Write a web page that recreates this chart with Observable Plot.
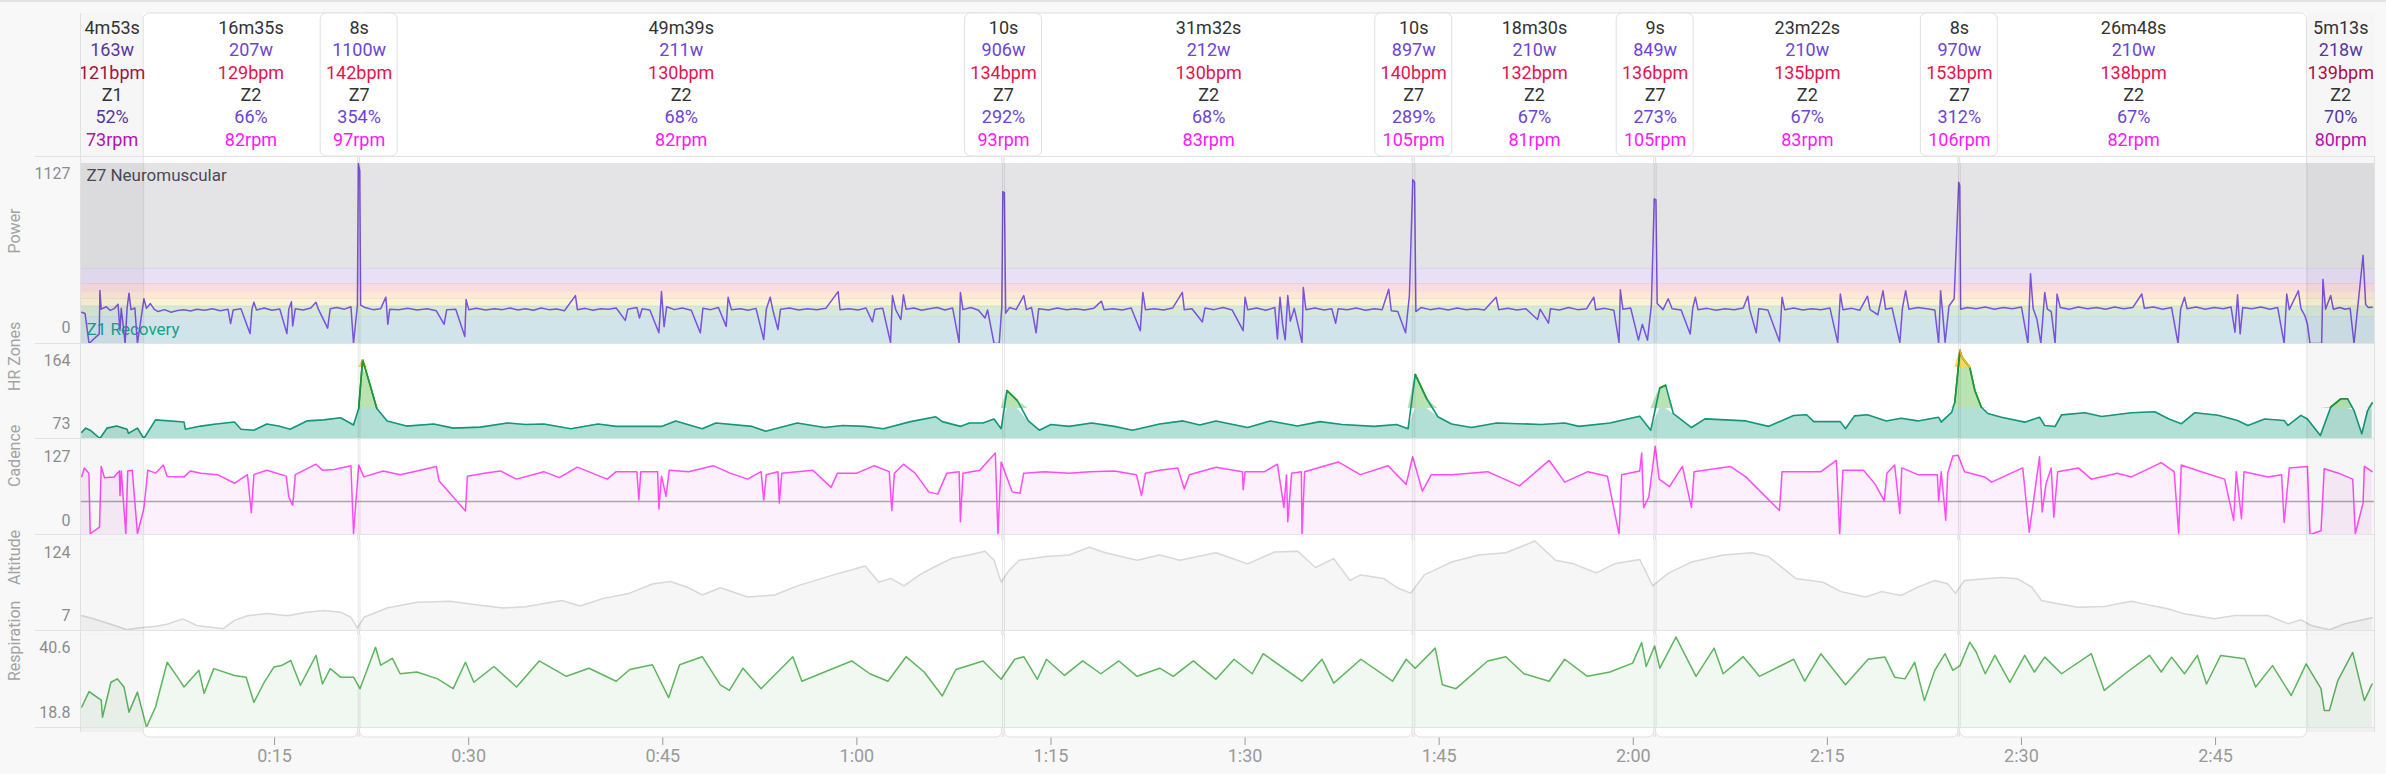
<!DOCTYPE html>
<html><head><meta charset="utf-8">
<script src="https://cdn.jsdelivr.net/npm/d3@7"></script>
<script src="https://cdn.jsdelivr.net/npm/@observablehq/plot@0.6"></script>
<style>
html,body{margin:0;padding:0;background:#f8f8f8;}
#chart{position:relative;width:2386px;height:774px;overflow:hidden;background:#f8f8f8;font-family:Roboto,sans-serif;}
#chart svg{position:absolute;left:0;}
.hline{position:absolute;height:1px;background:#e3e3e3;}
.vline{position:absolute;width:1px;background:#e0e0e0;}
</style></head><body><div id="chart"></div><script>
// ---------- interval header data ----------
const intervalLabels = ["4m53s","16m35s","8s","49m39s","10s","31m32s","10s","18m30s","9s","23m22s","8s","26m48s","5m13s"];
const intervalSeconds = [293,995,8,2979,10,1892,10,1110,9,1402,8,1608,313];
const intervalWatts = [163,207,1100,211,906,212,897,210,849,210,970,210,218];
const intervalBpm = [121,129,142,130,134,130,140,132,136,135,153,138,139];
const intervalZone = ["Z1","Z2","Z7","Z2","Z7","Z2","Z7","Z2","Z7","Z2","Z7","Z2","Z2"];
const intervalPct = [52,66,354,68,292,68,289,67,273,67,312,67,70];
const intervalRpm = [73,82,97,82,93,83,105,81,105,83,106,82,80];
const intervalKind = ["rest","work","sprint","work","sprint","work","sprint","work","sprint","work","sprint","work","rest"];

// ---------- axis labels ----------
const xTickValues = [15,30,45,60,75,90,105,120,135,150,165];
const xTickLabels = ["0:15","0:30","0:45","1:00","1:15","1:30","1:45","2:00","2:15","2:30","2:45"];
const powerTicks = ["1127","0"];
const hrTicks = ["164","73"];
const cadenceTicks = ["127","0"];
const altitudeTicks = ["124","7"];
const respTicks = ["40.6","18.8"];
const panelTitles = ["Power","HR Zones","Cadence","Altitude","Respiration"];

// ---------- power zones (W) ----------
const powerZoneBounds = [0,172,235,282,329,376,470,1127];
const powerZoneColors = ["#d1e4e9","#d6ebd7","#fbf3d6","#fde8d8","#fadbe1","#e8e0f5","#e4e4e7"];
const powerZoneNames = ["Z1 Recovery","Z7 Neuromuscular"];

// ---------- HR zones (bpm) and their share of the panel height ----------
const hrBreaks = [116,145,158,165];
const hrBandHeights = [0,30,71,92];
const cadenceRef = 44;

// ---------- series: [minutes, value] ----------
const powerSeries = [[0.1,196],[0.35,188],[0.66,0],[1.45,60],[1.5,332],[1.6,215],[2.0,230],[2.3,207],[2.6,218],[2.9,245],[3.05,81],[3.15,220],[3.45,0],[3.6,220],[3.75,315],[3.9,212],[4.2,222],[4.4,0],[4.9,280],[5.1,220],[5.4,250],[5.7,214],[6.0,200],[6.5,212],[7.0,196],[7.5,206],[8.0,212],[8.5,204],[9.0,215],[9.6,208],[10.2,218],[10.8,205],[11.4,214],[11.6,125],[11.8,210],[12.4,218],[13.1,62],[13.25,215],[13.4,259],[13.6,210],[14.2,222],[14.8,208],[15.4,216],[15.95,62],[16.1,215],[16.3,262],[16.4,110],[16.6,218],[17.2,210],[17.8,222],[18.2,258],[18.4,212],[19.1,96],[19.3,218],[19.8,225],[20.4,215],[20.9,230],[21.1,0],[21.4,240],[21.47,1127],[21.58,1080],[21.65,240],[22.0,225],[22.6,212],[23.2,218],[23.6,290],[23.75,120],[23.9,215],[24.6,212],[25.3,220],[26.0,210],[26.8,218],[27.5,205],[28.1,120],[28.3,212],[29.0,215],[29.7,44],[29.8,275],[30.0,212],[30.6,220],[31.3,210],[32.0,218],[32.6,212],
[33.2,222],[33.8,210],[34.4,218],[35.0,208],[35.6,222],[36.2,212],[36.8,216],[37.4,205],[38.25,300],[38.4,212],[39.0,220],[39.6,208],[40.2,218],[40.8,214],[41.4,222],[42.1,145],[42.3,215],[43.0,225],[43.2,160],[43.4,218],[44.0,210],[44.7,67],[44.9,325],[45.1,105],[45.3,230],[45.9,212],[46.5,222],[47.2,208],[47.9,67],[48.1,220],[48.7,212],[49.3,225],[49.9,107],[50.05,290],[50.3,212],[51.0,218],[51.6,208],[52.2,220],[52.8,25],[53.0,215],[53.3,290],[53.5,210],[53.9,88],[54.1,215],[54.8,222],[55.5,210],[56.2,218],[56.9,212],[57.6,220],[58.55,325],[58.7,212],[59.4,218],[60.1,210],[60.7,222],[61.2,135],[61.4,215],[62.0,220],[62.6,5],[62.75,300],[63.0,212],[63.4,150],[63.6,305],[63.8,215],[64.4,222],[65.0,208],[65.6,218],[66.2,225],[66.8,210],[67.4,222],[67.9,5],[68.0,320],[68.2,212],[68.8,225],[69.4,208],[69.9,160],[70.1,210],[70.6,0],[71.0,0],[71.2,230],[71.28,950],[71.4,945],[71.5,190],[71.8,225],[72.3,212],[72.9,300],[73.1,212],[73.5,225],[73.85,67],[74.05,218],[74.8,210],[75.5,222],[76.2,212],[76.9,218],[77.6,210],[78.3,220],[78.9,265],[79.1,212],[79.8,218],[80.5,210],[81.2,222],[81.9,80],[82.1,320],[82.3,212],[83.0,218],[83.7,210],[84.4,222],[85.15,320],[85.3,212],
[85.9,218],[86.7,135],[86.9,222],[87.6,212],[88.3,225],[89.0,210],[89.85,80],[90.0,290],[90.2,212],[90.9,222],[91.6,208],[92.3,225],[92.5,28],[92.7,290],[92.9,120],[93.1,23],[93.3,300],[93.5,140],[93.8,220],[94.4,5],[94.5,350],[94.7,212],[95.4,222],[96.1,210],[96.7,218],[97.0,127],[97.2,218],[97.9,212],[98.6,222],[99.3,208],[100.0,218],[100.6,212],[101.1,340],[101.3,205],[101.8,200],[102.4,67],[102.7,300],[102.96,1025],[103.1,1010],[103.2,200],[103.6,225],[104.3,212],[105.0,220],[105.7,210],[106.4,222],[107.1,212],[107.8,218],[108.5,210],[109.4,290],[109.6,212],[110.3,220],[111.0,210],[111.7,218],[112.6,150],[112.8,215],[113.45,127],[113.6,218],[114.3,210],[115.0,225],[115.7,212],[116.4,218],[116.95,290],[117.1,212],[117.8,220],[118.5,208],[118.9,5],[119.0,336],[119.2,215],[119.8,222],[120.4,21],[120.7,120],[121.1,21],[121.4,240],[121.62,905],[121.75,900],[121.85,250],[122.3,212],[122.7,280],[123.0,218],[123.7,210],[124.4,60],[124.6,222],[124.8,290],[125.0,212],[125.7,220],[126.4,208],[127.1,218],[127.8,212],[128.5,222],[128.85,296],[129.0,212],[129.5,67],[129.7,218],[130.4,210],[131.3,13],[131.5,290],[131.7,212],[132.4,222],[133.1,210],[133.8,218],[134.5,212],[135.2,222],[135.8,5],[136.0,310],[136.2,212],[136.9,220],[137.5,208],[138.1,296],[138.3,212],[138.9,180],[139.3,330],[139.5,215],
[140.0,222],[140.6,6],[140.8,220],[141.05,331],[141.3,215],[142.0,225],[142.7,218],[143.3,210],[143.6,0],[143.75,331],[143.9,200],[144.1,6],[144.4,235],[144.8,280],[145.15,1010],[145.23,990],[145.3,215],[145.8,225],[146.5,218],[147.2,228],[147.9,215],[148.6,225],[149.3,218],[150.0,228],[150.5,0],[150.7,437],[150.9,220],[151.2,150],[151.5,0],[151.8,320],[152.0,215],[152.3,200],[152.6,0],[152.75,310],[153.0,225],[153.7,215],[154.4,228],[155.1,218],[155.8,226],[156.5,215],[157.2,228],[157.9,218],[158.6,225],[159.3,310],[159.5,220],[160.2,228],[160.9,215],[161.6,225],[162.1,0],[162.3,215],[162.6,290],[162.8,218],[163.5,228],[164.2,215],[164.9,225],[165.6,218],[166.2,228],[166.5,71],[166.7,305],[166.9,60],[167.1,225],[167.8,218],[168.5,228],[169.2,215],[169.8,225],[170.3,0],[170.5,310],[170.7,212],[171.4,330],[171.6,218],[171.9,175],[172.1,120],[172.3,0],[173.2,0],[173.3,400],[173.5,215],[173.9,300],[174.1,215],[174.6,225],[175.0,215],[175.4,220],[175.7,0],[176.4,552],[176.6,245],[176.8,225],[177.1,227]];

const hrSeries = [[0.1,122],[0.4,126],[0.75,124],[1.5,116],[2.05,126],[2.8,128],[3.6,125],[3.7,121],[4.4,126],[4.9,116],[5.8,134],[8.0,132],[8.1,125],[9.3,128],[10.5,130],[11.9,132],[12.4,125],[13.4,124],[14.4,130],[15.3,128],[16.2,125],[17.5,133],[18.8,134],[20.1,136],[21.1,129],[21.5,145],[21.8,160.6],[22.2,155],[22.9,145],[23.7,133],[25.2,128],[27.3,130],[28.8,126],[30.9,127],[33,131],[34.4,129.6],[35.8,130],[37.9,125.5],[40,130],[41.4,127.7],[44.9,127.7],[46,133],[48.05,125.5],[49.1,131],[51.9,127.7],[52.95,123],[55.4,131],[57.5,126.6],[58.9,128.6],[60.6,127.7],[62.05,125.5],[64.15,132.3],[66.1,137],[66.6,132.3],[68,127.7],[68.7,131],[69.75,131],[70.6,134.9],[71.15,125.5],[71.6,150.7],[72.4,147.5],[73.25,133],[74.1,124],[75,129.6],[76.4,127.7],[78.15,131],[79.9,127.7],[81.3,124],[83.4,130],[85.2,133],
[86.5,129],[87.75,133],[90.2,126.6],[91.95,133],[94.05,128],[95.8,132.3],[97.5,129.6],[100,127.7],[101.7,129.6],[102.6,125.5],[103.15,155.8],[104.05,148],[104.9,137],[105.95,130],[107.5,126.6],[109.45,131],[112.9,129.6],[114.7,131],[115.8,127.7],[118.2,131],[120.5,137.6],[121.35,124],[122.05,151.5],[122.5,152.4],[123.1,140],[124.5,126.6],[125.55,135],[128.7,133],[130.45,127.7],[132.4,138.3],[133.4,139],[133.95,132.3],[136.0,132.3],[136.4,125.5],[137.1,137.9],[138.1,139],[139.55,133],
[140.7,135.6],[142,133],[143.6,136.5],[143.8,131.8],[144.6,141.2],[144.85,147],[145.25,163.7],[145.4,161.4],[146,158.1],[146.4,150.7],[146.9,145.4],[147.4,140.2],[148.45,136.5],[150.25,131.8],[151.4,136.5],[151.8,128.6],[152.6,127.6],[153.1,138.8],[154.9,140.9],[156.2,137.3],[158.5,140.9],[160.3,141.8],[161.4,134.8],[162.35,130.2],[163.4,140.9],[165.2,138.4],[166.7,133.4],[167.5,128.6],[168.8,134.8],[170.3,133.4],[170.6,128.6],[171.6,138.4],[172.1,134.8],[173.1,118.9],[173.9,145.4],[174.7,148.1],[175.2,148.1],[175.7,143],[176.3,120.5],[176.75,143],[177.1,146.7]];

const cadenceSeries = [[0.1,77.5],[0.3,89],[0.65,82],[0.75,1],[1.47,10],[1.6,91],[1.85,76],[2.6,77],[3.0,85],[3.05,52],[3.15,85],[3.5,1],[3.65,85],[4.0,86],[4.4,1],[4.9,35],[5.2,86],[5.8,82],[6.4,93],[6.7,77.5],[8.0,77],[8.5,85],[9.3,82],[10.6,80],[11.9,68.5],[12.9,80],[13.2,29],[13.4,80],[14.4,86],[15.9,78],[16.1,50],[16.4,39],[16.6,80],[18.2,94],[18.7,86],[19.6,87],[20.9,92],[21.1,1],[21.5,93],[21.9,77],[23.4,85],[24.7,80],[26.0,85],[27.5,91],[27.7,72],[29.75,31.5],[29.9,78],[31.2,82],[32.45,85],
[33.7,74],[35.8,84],[37.0,76],[38.4,90],[40.7,74],[41.4,84],[43.0,84],[43.15,46],[43.3,84],[44.6,84],[44.7,34],[44.9,78],[45.25,51],[45.5,86],[47.0,84],[48.9,92],[50.2,82],[51.55,74],[52.6,84],[52.8,46],[53.0,80],[53.9,84],[54.0,42],[54.2,82],[56.6,86],[58.0,63],[58.5,82],[60.0,82],[61.35,92],[62.5,84],[62.7,32],[62.9,82],[63.6,94],[64.5,82],[65.55,57],[66.25,54],[66.95,82],[67.9,84],[68.0,17],[68.2,82],[69.5,86],[70.7,109],[70.9,0],[71.15,97],[72.0,57],[72.6,55],[72.9,82],[74.5,84],[76.4,82],[78,84],[79.9,85],[81.6,80],[82.0,52],[82.3,82],[83.4,86],[84.8,89],[85.3,61],
[85.7,80],[87.75,90],[89.8,84],[89.85,60],[90.0,84],[91.5,84],[92.5,94],[93.0,36],[93.2,80],[93.3,17],[93.6,82],[94.35,84],[94.4,0],[94.6,84],[97.2,97],[98.9,80],[101.05,92],[102.45,67],[102.95,104],[103.7,58],[104.4,80],[106,80],[108.75,84],[111.2,65],[113.5,99],[114.7,70],[116.5,84],[118.0,78],[118.9,0],[119.1,80],[120.5,85],[120.65,109],[120.8,36],[121.2,50],[121.7,118],[122.0,74],[122.8,64],[123.8,91],[124.5,36],[124.7,84],[127.5,91],[128.7,77],[131.3,32],[131.5,84],[134.5,84],[135.7,99],[135.95,0],[136.2,86],[137.8,86],[138.7,67],[139.4,45],
[139.6,82],[140.2,93],[140.6,28],[140.75,89],[142.0,80],[143.5,80],[143.6,44],[143.8,84],[144.15,19],[144.3,82],[144.7,105],[145.1,106],[145.6,84],[147.15,77],[147.7,70],[149.2,82],[150.1,89],[150.6,3],[151.4,104],[151.6,30],[151.9,68],[152.3,89],[152.5,23],[152.8,84],[154.4,89],[155.4,74],[157.4,82],[158.5,77],[160.8,96],[161.8,84],[162.15,1],[162.35,93],[163.9,84],[165.7,74],[166.4,19],[166.6,84],[167.0,21],[167.2,84],[169.05,77],[170.1,80],[170.3,16],[170.7,89],[172.1,91],[172.3,0],[173.15,5],[173.4,88],[174.5,82],[175.6,74],[175.8,1],[176.4,42],[176.5,91],[177.1,84]];

const altitudeSeries = [[0.1,26],[0.8,23],[2.35,15],[3.6,8],[4.4,10.3],[5.7,12],[6.7,15],[7.9,22],[9.0,13.4],[11.0,9.2],[11.9,20],[12.9,26],[14.4,29],[16.0,26],[17.5,30.6],[18.8,32.7],[20.1,30.6],[20.9,24],[21.4,10],[21.9,24],[23.7,36],[26.0,43.4],[28.6,44.7],[30.4,40.4],
[32.65,36],[34.4,37.5],[37.2,45.6],[38.6,38.5],[40.35,48],[42.45,55],[44.2,66.7],[45.6,70],[47,62],[48.05,52.6],[49.45,62],[51.55,50],[53.65,52.6],[55.4,64.4],[58.2,78.5],[60.65,90],[61.7,69],[62.6,74],[63.65,64.4],[64.85,78.5],[65.9,88],[67.3,99.5],[68.7,104],[69.9,109],[70.6,97.4],[71.15,69],[71.7,83],[72.55,97.4],[74.65,102],[76.4,104],[77.95,114],[79.2,107],[81.65,97.4],[83.4,104],
[84.95,97.4],[87.75,107],[90.2,92.7],[92.3,108],[94.05,109],[95.45,88],[96.85,99.5],[98.1,71.5],[98.95,78.5],[100.7,74],[101.75,62],[102.8,55],[103.85,78.5],[105.95,95],[108.05,104],[110.15,107],[112.4,122],[114,97.4],[115.4,92.7],[117.15,81],[118.55,92.7],[120.5,98.4],[121.5,64.4],[122.75,81],[124.5,95],[126.95,104],[129.2,107],[130.45,102],[132.55,74],[134.65,69],[136.05,57],[137.95,50],[139.2,57],
[140.7,52],[142,62.7],[143.3,71.3],[144.3,67],[144.9,55],[145.6,71.3],[147.2,73.4],[148.45,75],[149.7,73.4],[150.8,62.7],[151.55,45.6],[152.8,41.3],[154.4,37],[156.4,38],[158.5,44.7],[160.05,39],[161.3,35],[162.6,28.4],[164.9,22],[166.5,26.3],[169.05,26.3],[170.6,15.6],[171.6,20.7],[172.4,13.4],[173.8,7.9],[175,15.6],[177.1,23.3]];

const respSeries = [[0.1,23.6],[0.66,27.2],[1.6,25.2],[1.7,21.2],[2.35,29.4],[2.85,30.2],[3.36,28.3],[3.75,22.4],[4.4,27.1],[5.1,18.9],[5.8,23.6],[6.7,34.1],[7.5,30.6],[8.0,28.3],[9.15,32.2],[9.55,26.8],[10.3,32.6],[11.9,31],[12.8,30.6],[13.4,24.7],[14.2,29.4],[14.95,33],[15.6,33.4],[16.25,34.5],[17.0,28.7],[18.2,35.7],[18.7,29],[19.3,32.6],[20.1,30.6],[21.1,30.6],[21.6,27.9],[22.8,37.6],[23.2,33.4],[24.1,35],[24.7,31.4],[26,31.8],[27.6,30.2],[28.8,27.9],[29.75,34.1],[30.4,29.4],
[31.95,33.1],[33.7,28.3],[35.45,34.4],[37.55,30.8],[39.3,32.7],[41.4,29.65],[42.45,32.4],[44.2,33.5],[45.45,25.8],[46.3,33.5],[48.05,35.4],[49.45,28.8],[50.15,27.5],[51.2,32.7],[52.6,27.9],[55.05,35.4],[55.75,29.65],[57.5,31.8],[59.6,34.4],[61,31.4],[62.4,29.65],[63.8,35.4],[65.2,31.8],[66.6,26.2],[67.65,32.4],[69.75,34.4],[71.15,30.1],[72.2,34.8],[72.9,35.4],[73.95,30.1],[74.65,34.8],[76.05,31],[77.45,34.4],[78.85,31.4],[80.25,34.4],[81.65,30.8],[83.4,32.7],[84.45,30.8],
[86,34.4],[87.75,30.1],[89.15,34.8],[90.55,31.4],[91.4,36.1],[94.4,29.65],[95.95,34.8],[96.85,29.2],[98.95,34.8],[101.4,29.65],[102.45,34.8],[103.15,32.7],[104.7,37.4],[105.25,28.8],[106.3,27.9],[108.75,34.4],[110.15,35.4],[111.55,31.4],[113.5,29.65],[114.7,34.8],[116.45,30.8],[118.2,31.8],[119.95,33.9],[120.65,38.7],[121,33.1],[121.65,37.9],[122.05,32.7],[123.3,40],[124.85,30.8],[126.25,37.4],[126.95,31.4],[128.5,35.4],[129.75,30.8],[132.4,34.8],[133.25,29.65],[134.5,36.1],[136.4,28.8],[138.15,34.8],[139.45,35.3],
[140.2,30.6],[141,30.2],[141.75,34.1],[142.5,25.1],[143.3,32.2],[144.1,36.1],[144.7,32.2],[145.25,33.3],[146,38.8],[146.5,36.5],[147.2,31.4],[147.95,35.7],[149.1,29.4],[150.25,35.7],[151,31.8],[151.8,35.3],[153.1,31.4],[155.4,36.1],[156.4,27.5],[158,31.4],[159.9,35.7],[160.8,31.8],[161.6,35.3],[162.6,31.4],[163.6,35.7],[164.3,29],[165.4,35.7],[167.25,34.9],[168.1,28.3],[169.4,33.3],[170.85,26.3],[172,33.7],[173.15,27.9],[173.4,22.8],[173.8,22.8],[174.45,29.8],[175.6,36.4],[176.5,25.1],[177.1,29]];

// ---------- derived structures ----------
const totalMin = d3.sum(intervalSeconds) / 60;
let acc = 0;
const intervals = intervalLabels.map((label, i) => {
  const start = acc; acc += intervalSeconds[i] / 60;
  return {label, start, end: acc, mid: (start + acc) / 2, kind: intervalKind[i],
    watts: intervalWatts[i] + "w", bpm: intervalBpm[i] + "bpm", zone: intervalZone[i],
    pct: intervalPct[i] + "%", rpm: intervalRpm[i] + "rpm"};
});
const restIntervals = intervals.filter(d => d.kind === "rest");
const boxedIntervals = intervals.filter(d => d.kind !== "rest");
const sprintIntervals = intervals.filter(d => d.kind === "sprint");
const boundaries = intervals.slice(1).map(d => d.start);
const powerZones = powerZoneColors.map((c, i) => ({lo: powerZoneBounds[i], hi: powerZoneBounds[i + 1], color: c}));
const T = d => d[0], V = d => d[1];
// zone-based (piecewise) height of HR within its panel
const hrZoneHeight = d3.scaleLinear().domain(hrBreaks).range(hrBandHeights).clamp(true);
const hrPlot = hrSeries.map(([t, v]) => ({t, h: hrZoneHeight(v)}));
const [hr0, hr1, hr2] = hrBandHeights;

// ---------- layout ----------
const W = 2386, ML = 80, MR = 12;
const FONT = "Roboto, 'Noto Sans', sans-serif";
const chart = document.getElementById("chart");
const xScale = {domain: [0, totalMin]};

// ---------- frame / header / x-axis ----------
const dark = d => d.kind === "rest";
const headerRows = [
  {key: "label", dy: 15, fill: d => "#333"},
  {key: "watts", dy: 37, fill: d => dark(d) ? "#56369e" : "#6c44d6"},
  {key: "bpm", dy: 60, fill: d => dark(d) ? "#a3123f" : "#e5134c"},
  {key: "zone", dy: 82, fill: d => "#333"},
  {key: "pct", dy: 104, fill: d => dark(d) ? "#56369e" : "#6c44d6"},
  {key: "rpm", dy: 127, fill: d => dark(d) ? "#b312ad" : "#ff17f4"}
];
const tickLabelOf = new Map(xTickValues.map((v, i) => [v, xTickLabels[i]]));
const frameSvg = Plot.plot({
  width: W, height: 774, marginLeft: ML, marginRight: MR, marginTop: 13, marginBottom: 37,
  x: {...xScale, ticks: xTickValues, tickFormat: v => tickLabelOf.get(v), tickSize: 8, tickPadding: 4, label: null},
  color: {type: "identity"},
  style: {background: "transparent", fontFamily: FONT, fontSize: "18px", color: "#9a9a9a", overflow: "visible"},
  marks: [
    Plot.rect([{start: 0, end: totalMin}], {x1: "start", x2: "end", insetBottom: 10, fill: "white"}),
    Plot.rect(restIntervals, {x1: "start", x2: "end", insetBottom: 5, fill: "#000", fillOpacity: 0.035}),
    Plot.rect(boxedIntervals, {x1: "start", x2: "end", fill: "white", stroke: "#e0e0e0", rx: 6}),
    Plot.rect(sprintIntervals, {x1: "mid", x2: "mid", insetLeft: -38.5, insetRight: -38.5, insetBottom: 581, fill: "white", stroke: "#e0e0e0", rx: 6}),
    ...headerRows.map(r => Plot.text(intervals, {x: "mid", frameAnchor: "top", dy: r.dy, text: r.key, fill: r.fill, fontSize: 18, lineAnchor: "middle"}))
  ]
});
chart.append(frameSvg);
frameSvg.style.top = "0px";

// ---------- panel helper ----------
function panel({top, height, marginTop = 0, y, marks, title, ticks, tickDy}) {
  const svg = Plot.plot({
    width: W, height, marginLeft: ML, marginRight: MR, marginTop, marginBottom: 0,
    x: {...xScale, axis: null},
    y: {...y, axis: null},
    color: {type: "identity"},
    style: {background: "transparent", fontFamily: FONT, overflow: "visible"},
    marks: [
      Plot.frame({fill: "white", stroke: null}),
      ...marks,
      Plot.rect(restIntervals, {x1: "start", x2: "end", fill: "#000", fillOpacity: 0.035}),
      Plot.ruleX(boundaries, {stroke: "#000", strokeOpacity: 0.1}),
      Plot.text([ticks[0]], {text: d => d, frameAnchor: "top-left", dx: -10, dy: tickDy[0], textAnchor: "end", lineAnchor: "middle", fill: "#8c8c8c", fontSize: 16}),
      Plot.text([ticks[1]], {text: d => d, frameAnchor: "bottom-left", dx: -10, dy: tickDy[1], textAnchor: "end", lineAnchor: "middle", fill: "#8c8c8c", fontSize: 16}),
      Plot.text([title], {text: d => d, frameAnchor: "left", dx: -66, rotate: -90, fill: "#a3a3a3", fontSize: 16})
    ]
  });
  svg.style.top = top + "px";
  chart.append(svg);
}

// Power
panel({top: 156, height: 187, marginTop: 7, y: {domain: [0, 1127]}, title: panelTitles[0], ticks: powerTicks, tickDy: [10, -16],
  marks: [
    Plot.rect(powerZones, {y1: "lo", y2: "hi", fill: "color"}),
    Plot.ruleY(powerZoneBounds.slice(1, -1), {stroke: "#000", strokeOpacity: 0.06}),
    Plot.text([powerZoneNames[1]], {text: d => d, frameAnchor: "top-left", dx: 6, dy: 12, textAnchor: "start", lineAnchor: "middle", fill: "#4d4b57", fontSize: 17}),
    Plot.text([powerZoneNames[0]], {text: d => d, frameAnchor: "bottom-left", dx: 6, dy: -14, textAnchor: "start", lineAnchor: "middle", fill: "#17a08a", fontSize: 17}),
    Plot.line(powerSeries, {x: T, y: V, stroke: "#7b52dc", strokeWidth: 1.5})
  ]});

// HR zones
panel({top: 343, height: 95, y: {domain: [0, 95]}, title: panelTitles[1], ticks: hrTicks, tickDy: [17, -15],
  marks: [
    Plot.area(hrPlot, {x1: "t", y1: hr0, y2: d => Math.min(d.h, hr1), fill: "#b3e0d6"}),
    Plot.area(hrPlot, {x1: "t", y1: hr1, y2: d => Math.max(hr1, Math.min(d.h, hr2)), fill: "#b9e3b1"}),
    Plot.area(hrPlot, {x1: "t", y1: hr2, y2: d => Math.max(hr2, d.h), fill: "#ffd862"}),
    Plot.line(hrPlot, {x: "t", y: "h", stroke: "#13977a", strokeWidth: 1.6}),
    Plot.line(hrPlot, {x: "t", y: d => d.h >= hr1 ? d.h : NaN, stroke: "#22992c", strokeWidth: 1.6}),
    Plot.line(hrPlot, {x: "t", y: d => d.h >= hr2 ? d.h : NaN, stroke: "#f7bd14", strokeWidth: 1.6})
  ]});

// Cadence
panel({top: 438, height: 96, marginTop: 1, y: {domain: [0, 127]}, title: panelTitles[2], ticks: cadenceTicks, tickDy: [17, -14],
  marks: [
    Plot.areaY(cadenceSeries, {x: T, y: V, fill: "#fdf0fd"}),
    Plot.ruleY([cadenceRef], {stroke: "#a8a8a8", strokeWidth: 1.5}),
    Plot.line(cadenceSeries, {x: T, y: V, stroke: "#ff4cf6", strokeWidth: 1.5})
  ]});

// Altitude
panel({top: 534, height: 96, marginTop: 5, y: {domain: [7, 124]}, title: panelTitles[3], ticks: altitudeTicks, tickDy: [13, -15],
  marks: [
    Plot.areaY(altitudeSeries, {x: T, y1: 7, y2: V, fill: "#f6f6f6"}),
    Plot.line(altitudeSeries, {x: T, y: V, stroke: "#d8d8d8", strokeWidth: 1.5})
  ]});

// Respiration
panel({top: 630, height: 97, marginTop: 4, y: {domain: [18.8, 40.6]}, title: panelTitles[4], ticks: respTicks, tickDy: [13, -15],
  marks: [
    Plot.areaY(respSeries, {x: T, y1: 18.8, y2: V, fill: "#f1f8f1"}),
    Plot.line(respSeries, {x: T, y: V, stroke: "#5db65d", strokeWidth: 1.5})
  ]});

// separators and borders
for (const yy of [156, 343, 438, 534, 630, 727]) {
  const d = document.createElement("div"); d.className = "hline";
  d.style.top = yy + "px"; d.style.left = "35px"; d.style.width = (W - MR - 35) + "px";
  chart.append(d);
}
for (const [xx, t0, t1] of [[ML, 13, 732], [W - MR, 156, 732]]) {
  const d = document.createElement("div"); d.className = "vline";
  d.style.left = xx + "px"; d.style.top = t0 + "px"; d.style.height = (t1 - t0) + "px";
  chart.append(d);
}
const topLine = document.createElement("div"); topLine.className = "hline";
topLine.style.top = "0px"; topLine.style.left = "0px"; topLine.style.width = W + "px"; topLine.style.height = "2px";
chart.append(topLine);
</script></body></html>
